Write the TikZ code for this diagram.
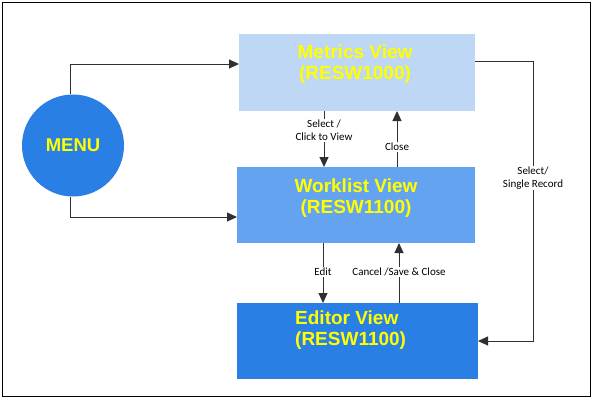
\documentclass[tikz,border=0pt]{standalone}
\usepackage{fontspec}
\setmainfont{Liberation Sans}
\newfontfamily\lblfont{Carlito}
\usetikzlibrary{arrows.meta}
\definecolor{boxA}{HTML}{BDD7F5}
\definecolor{boxB}{HTML}{64A3EF}
\definecolor{boxC}{HTML}{2A7FE5}
\definecolor{ytxt}{HTML}{FFFF00}
\definecolor{lnc}{HTML}{303030}
\tikzset{
  viewbox/.style={draw=none, inner sep=0pt, text=ytxt, font=\fontsize{19}{21}\selectfont\bfseries, align=center},
  conn/.style={draw=lnc, line width=1pt, -{Triangle[length=10pt,width=9pt]}},
  lbl/.style={font=\lblfont\fontsize{11}{13}\selectfont, fill=white, inner sep=1pt, align=center, text=black}
}
\begin{document}
\begin{tikzpicture}[x=1pt,y=-1pt]
\useasboundingbox (0,0) rectangle (594,400);
\draw[line width=1pt] (2.5,2.5) rectangle (590.5,396.5);
% boxes
\fill[boxA] (239,34) rectangle (475,111);
\fill[boxB] (237,167) rectangle (475,243);
\fill[boxC] (237,303) rectangle (478,379);
\node[viewbox] (metrics) at (355,64) {Metrics View\\(RESW1000)};
\node[viewbox] (worklist) at (356,198) {Worklist View\\(RESW1100)};
\node[viewbox, align=left, anchor=west] (editor) at (295,330) {Editor View\\(RESW1100)};
% menu
\node[circle, fill=boxC, minimum size=102pt, inner sep=0pt, text=ytxt, font=\fontsize{18.5}{20}\selectfont\bfseries] (menu) at (73,145.5) {MENU};
% coordinates on box edges
\coordinate (mL) at (239,64); \coordinate (mR) at (475,61);
\coordinate (wL) at (237,217);
\coordinate (eR) at (478,341);
\coordinate (m1) at (324,111); \coordinate (w1) at (324,167);
\coordinate (m2) at (397,111); \coordinate (w2) at (397,167);
\coordinate (w3) at (323,243); \coordinate (e3) at (323,303);
\coordinate (w4) at (399,243); \coordinate (e4) at (399,303);
% connectors
\draw[conn] (menu.north -| 70,0) |- (mL);
\draw[conn] (menu.south -| 70,0) |- (wL);
\draw[conn] (mR) -- (533,61) |- (eR);
\draw[conn] (m1) -- (w1);
\draw[conn] (w2) -- (m2);
\draw[conn] (w3) -- (e3);
\draw[conn] (e4) -- (w4);
% labels
\node[lbl] (l1) at (324,130.5) {Select /\\Click to View};
\node[lbl] (l2) at (397,147) {Close};
\node[lbl] (l3) at (323,272) {Edit};
\node[lbl] (l4) at (399,272) {Cancel /Save \& Close};
\node[lbl] (l5) at (533,178) {Select/\\Single Record};
\end{tikzpicture}
\end{document}
